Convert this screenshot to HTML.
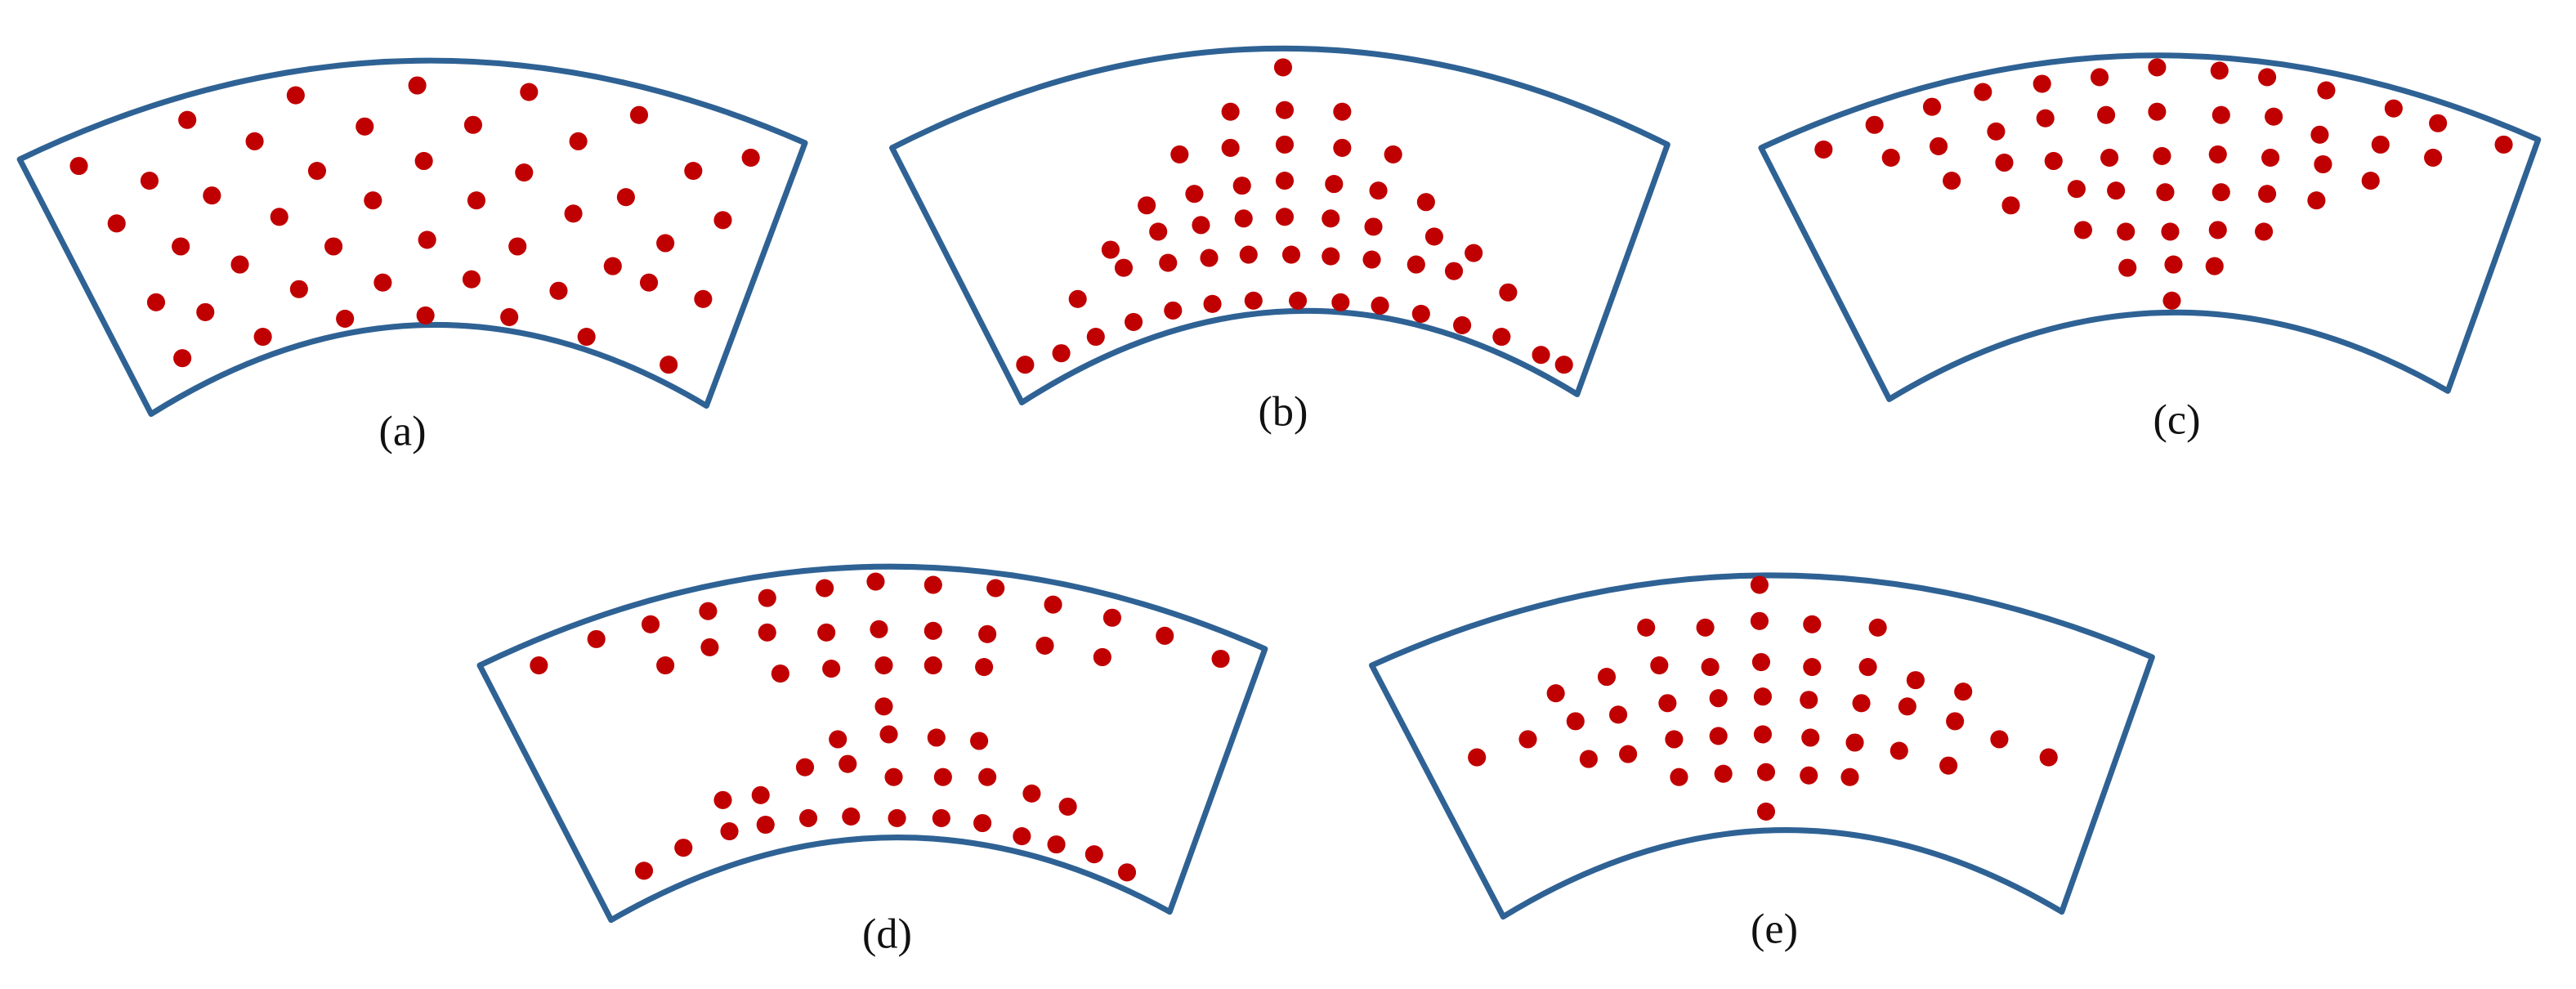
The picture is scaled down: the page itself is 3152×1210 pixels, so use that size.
<!DOCTYPE html>
<html><head><meta charset="utf-8"><style>html,body{margin:0;padding:0;background:#fff}svg{display:block}</style></head>
<body>
<svg width="3152" height="1210" viewBox="0 0 1568 602" preserveAspectRatio="none" xmlns="http://www.w3.org/2000/svg">
<g fill="none" stroke="#2f6294" stroke-width="3.5" stroke-linejoin="round">
<path d="M12,97 Q251,-18 490,87 L430,247 Q261,146 92,252 Z"/>
<path d="M543,90 Q779,-30 1015,88 L960,240 Q791,136 622,245 Z"/>
<path d="M1072,90 Q1308,-20 1545,85 L1490,238 Q1320,140 1150,243 Z"/>
<path d="M292,405 Q531,290 770,395 L712,555 Q542,462 372,560 Z"/>
<path d="M835,405 Q1072,298 1310,400 L1255,555 Q1085,454 915,558 Z"/>
</g>
<g fill="#c00000" id="d">
<!-- a -->
<circle cx="114" cy="73" r="5.5"/><circle cx="180" cy="58" r="5.5"/><circle cx="254" cy="52" r="5.5"/><circle cx="322" cy="56" r="5.5"/><circle cx="389" cy="70" r="5.5"/>
<circle cx="48" cy="101" r="5.5"/><circle cx="91" cy="110" r="5.5"/><circle cx="155" cy="86" r="5.5"/><circle cx="222" cy="77" r="5.5"/><circle cx="288" cy="76" r="5.5"/><circle cx="352" cy="86" r="5.5"/><circle cx="422" cy="104" r="5.5"/><circle cx="457" cy="96" r="5.5"/>
<circle cx="129" cy="119" r="5.5"/><circle cx="193" cy="104" r="5.5"/><circle cx="258" cy="98" r="5.5"/><circle cx="319" cy="105" r="5.5"/><circle cx="381" cy="120" r="5.5"/><circle cx="71" cy="136" r="5.5"/><circle cx="440" cy="134" r="5.5"/>
<circle cx="110" cy="150" r="5.5"/><circle cx="170" cy="132" r="5.5"/><circle cx="227" cy="122" r="5.5"/><circle cx="290" cy="122" r="5.5"/><circle cx="349" cy="130" r="5.5"/><circle cx="405" cy="148" r="5.5"/>
<circle cx="146" cy="161" r="5.5"/><circle cx="203" cy="150" r="5.5"/><circle cx="260" cy="146" r="5.5"/><circle cx="315" cy="150" r="5.5"/><circle cx="373" cy="162" r="5.5"/>
<circle cx="95" cy="184" r="5.5"/><circle cx="125" cy="190" r="5.5"/><circle cx="182" cy="176" r="5.5"/><circle cx="233" cy="172" r="5.5"/><circle cx="287" cy="170" r="5.5"/><circle cx="340" cy="177" r="5.5"/><circle cx="395" cy="172" r="5.5"/><circle cx="428" cy="182" r="5.5"/>
<circle cx="111" cy="218" r="5.5"/><circle cx="160" cy="205" r="5.5"/><circle cx="210" cy="194" r="5.5"/><circle cx="259" cy="192" r="5.5"/><circle cx="310" cy="193" r="5.5"/><circle cx="357" cy="205" r="5.5"/><circle cx="407" cy="222" r="5.5"/>
<!-- b -->
<circle cx="781" cy="41" r="5.5"/><circle cx="749" cy="68" r="5.5"/><circle cx="782" cy="67" r="5.5"/><circle cx="817" cy="68" r="5.5"/>
<circle cx="718" cy="94" r="5.5"/><circle cx="749" cy="90" r="5.5"/><circle cx="782" cy="88" r="5.5"/><circle cx="817" cy="90" r="5.5"/><circle cx="848" cy="94" r="5.5"/>
<circle cx="727" cy="118" r="5.5"/><circle cx="756" cy="113" r="5.5"/><circle cx="782" cy="110" r="5.5"/><circle cx="812" cy="112" r="5.5"/><circle cx="839" cy="116" r="5.5"/>
<circle cx="698" cy="125" r="5.5"/><circle cx="705" cy="141" r="5.5"/><circle cx="731" cy="137" r="5.5"/><circle cx="757" cy="133" r="5.5"/><circle cx="782" cy="132" r="5.5"/><circle cx="810" cy="133" r="5.5"/><circle cx="836" cy="138" r="5.5"/><circle cx="868" cy="123" r="5.5"/><circle cx="873" cy="144" r="5.5"/>
<circle cx="676" cy="152" r="5.5"/><circle cx="897" cy="154" r="5.5"/>
<circle cx="684" cy="163" r="5.5"/><circle cx="711" cy="160" r="5.5"/><circle cx="736" cy="157" r="5.5"/><circle cx="760" cy="155" r="5.5"/><circle cx="786" cy="155" r="5.5"/><circle cx="810" cy="156" r="5.5"/><circle cx="835" cy="158" r="5.5"/><circle cx="862" cy="161" r="5.5"/><circle cx="885" cy="165" r="5.5"/>
<circle cx="656" cy="182" r="5.5"/><circle cx="918" cy="178" r="5.5"/>
<circle cx="667" cy="205" r="5.5"/><circle cx="690" cy="196" r="5.5"/><circle cx="714" cy="189" r="5.5"/><circle cx="738" cy="185" r="5.5"/><circle cx="763" cy="183" r="5.5"/><circle cx="790" cy="183" r="5.5"/><circle cx="816" cy="184" r="5.5"/><circle cx="840" cy="186" r="5.5"/><circle cx="865" cy="191" r="5.5"/><circle cx="890" cy="198" r="5.5"/><circle cx="914" cy="205" r="5.5"/>
<circle cx="624" cy="222" r="5.5"/><circle cx="646" cy="215" r="5.5"/><circle cx="938" cy="216" r="5.5"/><circle cx="952" cy="222" r="5.5"/>
<!-- c -->
<circle cx="1313" cy="41" r="5.5"/><circle cx="1278" cy="47" r="5.5"/><circle cx="1351" cy="43" r="5.5"/><circle cx="1243" cy="51" r="5.5"/><circle cx="1380" cy="47" r="5.5"/><circle cx="1207" cy="56" r="5.5"/><circle cx="1416" cy="55" r="5.5"/><circle cx="1176" cy="65" r="5.5"/><circle cx="1457" cy="66" r="5.5"/><circle cx="1141" cy="76" r="5.5"/><circle cx="1484" cy="75" r="5.5"/><circle cx="1110" cy="91" r="5.5"/><circle cx="1524" cy="88" r="5.5"/>
<circle cx="1282" cy="70" r="5.5"/><circle cx="1313" cy="68" r="5.5"/><circle cx="1352" cy="70" r="5.5"/><circle cx="1384" cy="71" r="5.5"/><circle cx="1245" cy="72" r="5.5"/><circle cx="1215" cy="80" r="5.5"/><circle cx="1412" cy="82" r="5.5"/><circle cx="1180" cy="89" r="5.5"/><circle cx="1449" cy="88" r="5.5"/>
<circle cx="1151" cy="96" r="5.5"/><circle cx="1481" cy="96" r="5.5"/><circle cx="1220" cy="99" r="5.5"/><circle cx="1250" cy="98" r="5.5"/><circle cx="1284" cy="96" r="5.5"/><circle cx="1316" cy="95" r="5.5"/><circle cx="1350" cy="94" r="5.5"/><circle cx="1382" cy="96" r="5.5"/><circle cx="1414" cy="100" r="5.5"/>
<circle cx="1188" cy="110" r="5.5"/><circle cx="1443" cy="110" r="5.5"/><circle cx="1264" cy="115" r="5.5"/><circle cx="1288" cy="116" r="5.5"/><circle cx="1318" cy="117" r="5.5"/><circle cx="1352" cy="117" r="5.5"/><circle cx="1380" cy="118" r="5.5"/><circle cx="1410" cy="122" r="5.5"/>
<circle cx="1224" cy="125" r="5.5"/><circle cx="1268" cy="140" r="5.5"/><circle cx="1294" cy="141" r="5.5"/><circle cx="1321" cy="141" r="5.5"/><circle cx="1350" cy="140" r="5.5"/><circle cx="1378" cy="141" r="5.5"/>
<circle cx="1295" cy="163" r="5.5"/><circle cx="1323" cy="161" r="5.5"/><circle cx="1348" cy="162" r="5.5"/><circle cx="1322" cy="183" r="5.5"/>
<!-- d -->
<circle cx="533" cy="354" r="5.5"/><circle cx="568" cy="356" r="5.5"/><circle cx="502" cy="358" r="5.5"/><circle cx="606" cy="358" r="5.5"/><circle cx="467" cy="364" r="5.5"/><circle cx="641" cy="368" r="5.5"/><circle cx="431" cy="372" r="5.5"/><circle cx="677" cy="376" r="5.5"/><circle cx="396" cy="380" r="5.5"/><circle cx="709" cy="387" r="5.5"/><circle cx="363" cy="389" r="5.5"/><circle cx="743" cy="401" r="5.5"/><circle cx="328" cy="405" r="5.5"/>
<circle cx="503" cy="385" r="5.5"/><circle cx="535" cy="383" r="5.5"/><circle cx="568" cy="384" r="5.5"/><circle cx="601" cy="386" r="5.5"/><circle cx="467" cy="385" r="5.5"/><circle cx="432" cy="394" r="5.5"/><circle cx="636" cy="393" r="5.5"/><circle cx="671" cy="400" r="5.5"/><circle cx="405" cy="405" r="5.5"/><circle cx="475" cy="410" r="5.5"/><circle cx="506" cy="407" r="5.5"/><circle cx="538" cy="405" r="5.5"/><circle cx="568" cy="405" r="5.5"/><circle cx="599" cy="406" r="5.5"/>
<circle cx="538" cy="430" r="5.5"/><circle cx="510" cy="450" r="5.5"/><circle cx="541" cy="447" r="5.5"/><circle cx="570" cy="449" r="5.5"/><circle cx="596" cy="451" r="5.5"/>
<circle cx="490" cy="467" r="5.5"/><circle cx="516" cy="465" r="5.5"/><circle cx="544" cy="473" r="5.5"/><circle cx="574" cy="473" r="5.5"/><circle cx="601" cy="473" r="5.5"/><circle cx="628" cy="483" r="5.5"/><circle cx="463" cy="484" r="5.5"/><circle cx="440" cy="487" r="5.5"/><circle cx="650" cy="491" r="5.5"/>
<circle cx="444" cy="506" r="5.5"/><circle cx="466" cy="502" r="5.5"/><circle cx="492" cy="498" r="5.5"/><circle cx="518" cy="497" r="5.5"/><circle cx="546" cy="498" r="5.5"/><circle cx="573" cy="498" r="5.5"/><circle cx="598" cy="501" r="5.5"/><circle cx="622" cy="509" r="5.5"/><circle cx="643" cy="514" r="5.5"/><circle cx="666" cy="520" r="5.5"/><circle cx="686" cy="531" r="5.5"/><circle cx="416" cy="516" r="5.5"/><circle cx="392" cy="530" r="5.5"/>
<!-- e -->
<circle cx="1071" cy="356" r="5.5"/><circle cx="1002" cy="382" r="5.5"/><circle cx="1038" cy="382" r="5.5"/><circle cx="1071" cy="378" r="5.5"/><circle cx="1103" cy="380" r="5.5"/><circle cx="1143" cy="382" r="5.5"/>
<circle cx="1010" cy="405" r="5.5"/><circle cx="1041" cy="406" r="5.5"/><circle cx="1072" cy="403" r="5.5"/><circle cx="1103" cy="406" r="5.5"/><circle cx="1137" cy="406" r="5.5"/>
<circle cx="978" cy="412" r="5.5"/><circle cx="1166" cy="414" r="5.5"/><circle cx="947" cy="422" r="5.5"/><circle cx="1195" cy="421" r="5.5"/>
<circle cx="1015" cy="428" r="5.5"/><circle cx="1046" cy="425" r="5.5"/><circle cx="1073" cy="424" r="5.5"/><circle cx="1101" cy="426" r="5.5"/><circle cx="1133" cy="428" r="5.5"/><circle cx="985" cy="435" r="5.5"/><circle cx="1161" cy="430" r="5.5"/><circle cx="959" cy="439" r="5.5"/><circle cx="1190" cy="439" r="5.5"/>
<circle cx="1019" cy="450" r="5.5"/><circle cx="1046" cy="448" r="5.5"/><circle cx="1073" cy="447" r="5.5"/><circle cx="1102" cy="449" r="5.5"/><circle cx="1129" cy="452" r="5.5"/><circle cx="1156" cy="457" r="5.5"/><circle cx="930" cy="450" r="5.5"/><circle cx="1217" cy="450" r="5.5"/><circle cx="899" cy="461" r="5.5"/><circle cx="1247" cy="461" r="5.5"/>
<circle cx="967" cy="462" r="5.5"/><circle cx="991" cy="459" r="5.5"/><circle cx="1186" cy="466" r="5.5"/>
<circle cx="1022" cy="473" r="5.5"/><circle cx="1049" cy="471" r="5.5"/><circle cx="1075" cy="470" r="5.5"/><circle cx="1101" cy="472" r="5.5"/><circle cx="1126" cy="473" r="5.5"/>
<circle cx="1075" cy="494" r="5.5"/>
</g>
<g font-family="'Liberation Serif', serif" font-size="26" fill="#111" text-anchor="middle">
<text x="245" y="271">(a)</text>
<text x="781" y="259">(b)</text>
<text x="1325" y="264">(c)</text>
<text x="540" y="577">(d)</text>
<text x="1080" y="574">(e)</text>
</g>
</svg>
</body></html>
